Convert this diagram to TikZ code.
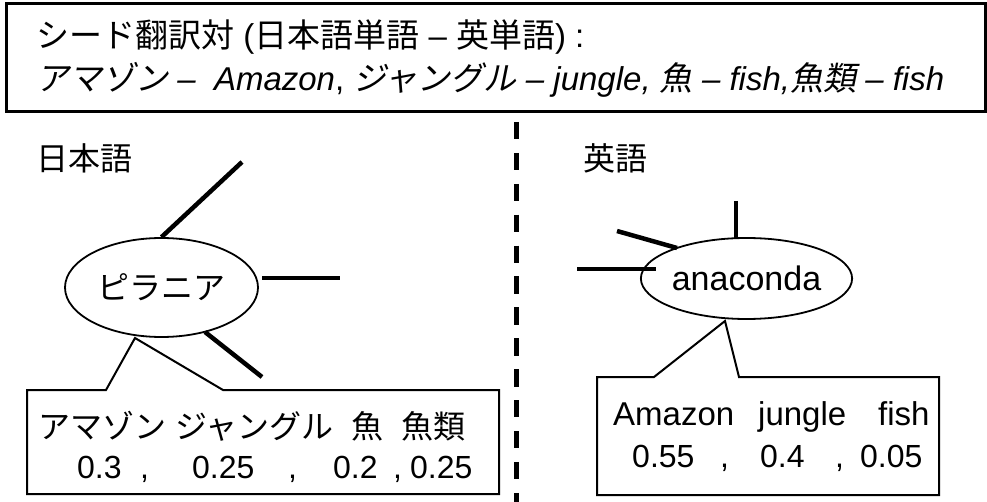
\documentclass[tikz,border=0pt]{standalone}
\usepackage{fontspec}
\setmainfont{Liberation Sans}
\newfontfamily\jpfont{Noto Sans CJK JP}
\newfontfamily\jpitfont[FakeSlant=0.2]{Noto Sans CJK JP}
\newcommand\jtext[1]{{\jpfont #1}}
\newcommand\jitext[1]{{\jpitfont #1}}
\usetikzlibrary{shapes.geometric}
\begin{document}
\begin{tikzpicture}[x=1pt,y=-1pt,
  txt/.style={inner sep=0pt, anchor=base west, font=\fontsize{32}{38}\selectfont},
  toptxt/.style={txt, font=\fontsize{33}{40}\selectfont},
  wordell/.style={ellipse, draw, line width=1.8pt, inner sep=0pt, font=\fontsize{32}{38}\selectfont},
  branch/.style={line width=4.5pt},
  callout/.style={draw, line width=2pt, line join=miter, fill=white},
  seedframe/.style={draw, line width=3pt, inner sep=0pt},
  divider/.style={line width=4.5pt, dash pattern=on 17.3pt off 13.6pt}]
\useasboundingbox (0,0) rectangle (987,502);

% seed box
\node[seedframe, minimum width=978.5pt, minimum height=108pt] (seed) at (495.75,57.5) {};
\node[toptxt] (seed1) at (36,48) {\jtext{シード翻訳対} (\jtext{日本語単語} – \jtext{英単語}) :};
\node[toptxt] (seed2) at (36,91) {\itshape \jitext{アマゾン} –\ \ Amazon{\upshape ,} \jitext{ジャングル} – jungle, \jitext{魚} – fish,\jitext{魚類} – fish};

% divider
\coordinate (dtop) at (516.5,122);
\coordinate (dbot) at (516.5,502);
\draw[divider] (dtop) -- (dbot);

% language labels
\node[txt] (jal) at (36,171) {\jtext{日本語}};
\node[txt] (enl) at (583,171) {\jtext{英語}};

% Japanese side
\node[wordell, minimum width=193pt, minimum height=99pt] (pir) at (161.5,287.5) {\jtext{ピラニア}};
\coordinate (pj1) at (242,162);
\coordinate (pj2a) at (262,278);
\coordinate (pj2b) at (340,278);
\coordinate (pj3a) at (205,332);
\coordinate (pj3b) at (262,377);
\draw[branch] (pir.north) -- (pj1);
\draw[branch] (pj2a) -- (pj2b);
\draw[branch] (pj3a) -- (pj3b);

\coordinate (jca) at (106,390);
\coordinate (jct) at (135,338);
\coordinate (jcb) at (223,390);
\coordinate (jc1) at (499,390);
\coordinate (jc2) at (499,494);
\coordinate (jc3) at (27,494);
\coordinate (jc4) at (27,390);
\draw[callout] (jca) -- (jct) -- (jcb) -- (jc1) -- (jc2) -- (jc3) -- (jc4) -- cycle;
\node[txt] (ja1) at (38,438) {\jtext{アマゾン} \jtext{ジャングル}\ \ \jtext{魚}\ \ \jtext{魚類}};
\node[txt] (ja2) at (77,478) {\makebox[63pt][l]{0.3}\makebox[52pt][l]{,}\makebox[96pt][l]{0.25}\makebox[45pt][l]{,}\makebox[60pt][l]{0.2}\makebox[17pt][l]{,}0.25};

% English side
\node[wordell, minimum width=179pt, minimum height=81pt, font=\fontsize{34}{40}\selectfont] (ana) at (746.5,278.5) {anaconda};
\coordinate (ej1) at (736,201);
\coordinate (ej1b) at (736,238);
\coordinate (ej2a) at (617,231);
\coordinate (ej2b) at (677,248);
\coordinate (ej3a) at (577,269);
\coordinate (ej3b) at (656,269);
\draw[branch] (ej1) -- (ej1b);
\draw[branch] (ej2a) -- (ej2b);
\draw[branch] (ej3a) -- (ej3b);

\coordinate (eca) at (654,377);
\coordinate (ect) at (725,321);
\coordinate (ecb) at (739,377);
\coordinate (ec1) at (939,377);
\coordinate (ec2) at (939,495);
\coordinate (ec3) at (597,495);
\coordinate (ec4) at (597,377);
\draw[callout] (eca) -- (ect) -- (ecb) -- (ec1) -- (ec2) -- (ec3) -- (ec4) -- cycle;
\node[txt, font=\fontsize{33}{40}\selectfont] (en1) at (613,425) {\makebox[145pt][l]{Amazon}\makebox[120pt][l]{jungle}fish};
\node[txt] (en2) at (632,467) {\makebox[88pt][l]{0.55}\makebox[40pt][l]{,}\makebox[75pt][l]{0.4}\makebox[25pt][l]{,}0.05};
\end{tikzpicture}
\end{document}
